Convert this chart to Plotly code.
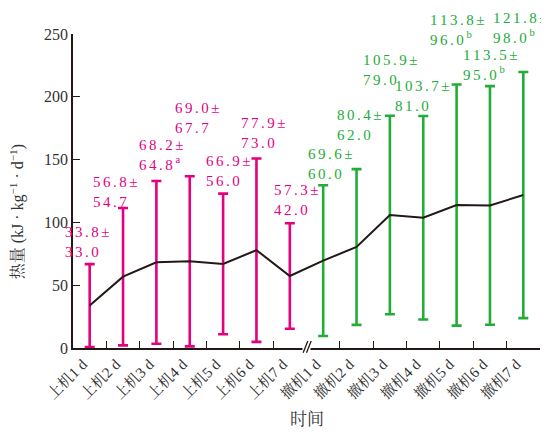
import plotly.graph_objects as go

categories = ["上机1 d", "上机2 d", "上机3 d", "上机4 d", "上机5 d", "上机6 d", "上机7 d",
              "撤机1 d", "撤机2 d", "撤机3 d", "撤机4 d", "撤机5 d", "撤机6 d", "撤机7 d"]
means = [33.8, 56.8, 68.2, 69.0, 66.9, 77.9, 57.3, 69.6, 80.4, 105.9, 103.7, 113.8, 113.5, 121.8]
sds = [33.0, 54.7, 64.8, 67.7, 56.0, 73.0, 42.0, 60.0, 62.0, 79.0, 81.0, 96.0, 95.0, 98.0]
marks = ["", "", "a", "", "", "", "", "", "", "", "", "b", "b", "b"]
y_ticks = [0, 50, 100, 150, 200, 250]
Y_MAX = 250

n_on = 7  # 上机 group size

# label placement (layout): x shift in px from category centre, y middle in data units
label_xshift = [-27, -32, -19, -17, -19, -17, -18, -17, -22, -29, -30, -29, -29, -32]
label_ymid = [84.0, 124.6, 153.3, 183.5, 140.9, 171.5, 118.2, 146.5, 177.5, 221.7, 201.0, 252.8, 225.7, 254.8]

PINK = "#E5007F"
GREEN = "#22AC38"
BLACK = "#231815"
GAP = "\u2006"
SERIF = "Liberation Serif, Noto Serif CJK SC, Noto Sans CJK SC"


def spaced(s):
    return GAP.join(list(s))


fig = go.Figure()

groups = [(0, n_on, PINK), (n_on, len(categories), GREEN)]
for a, b, col in groups:
    fig.add_trace(go.Scatter(
        x=categories[a:b], y=means[a:b], mode="markers",
        marker=dict(size=1, color="rgba(0,0,0,0)"),
        error_y=dict(type="data", array=sds[a:b], visible=True, color=col,
                     thickness=2.6, width=5),
        showlegend=False, hoverinfo="skip"))

fig.add_trace(go.Scatter(x=categories, y=means, mode="lines",
                         line=dict(color=BLACK, width=2), showlegend=False))

annotations = []
for i, (m, s, mk) in enumerate(zip(means, sds, marks)):
    col = PINK if i < n_on else GREEN
    line1 = spaced(f"{m:.1f}") + GAP + "±"
    line2 = spaced(f"{s:.1f}")
    if mk:
        line2 += f"<sup> {mk}</sup>"
    annotations.append(dict(
        x=i, y=label_ymid[i] / Y_MAX, xref="x", yref="paper", xanchor="left", yanchor="middle",
        xshift=label_xshift[i], align="left", showarrow=False,
        text=line1 + "<br>" + line2,
        font=dict(family="Liberation Serif", size=15, color=col)))

# axis titles as annotations
annotations.append(dict(
    x=0, y=0.432, xref="paper", yref="paper", xshift=-56, xanchor="center", yanchor="middle",
    textangle=-90, showarrow=False,
    text="热量 (kJ · kg<sup>−1</sup> · d<sup>−1</sup>)",
    font=dict(size=16, family=SERIF, color="#333333")))
annotations.append(dict(
    x=0.5, y=0, xref="paper", yref="paper", yshift=-71, xanchor="center", yanchor="middle",
    showarrow=False, text="时间",
    font=dict(size=17, family=SERIF, color="#333333")))

# axis break marker between the two groups
shapes = [
    dict(type="rect", xref="x", yref="paper", x0=n_on - 0.62, x1=n_on - 0.38,
         y0=-0.02, y1=0.03, fillcolor="white", line=dict(width=0), layer="above"),
    dict(type="line", xref="x", yref="paper", x0=n_on - 0.6, x1=n_on - 0.46,
         y0=-0.015, y1=0.022, line=dict(color=BLACK, width=1.3), layer="above"),
    dict(type="line", xref="x", yref="paper", x0=n_on - 0.5, x1=n_on - 0.36,
         y0=-0.015, y1=0.022, line=dict(color=BLACK, width=1.3), layer="above"),
]

fig.update_layout(
    width=541, height=424,
    margin=dict(l=65, r=9, t=26, b=84),
    paper_bgcolor="white", plot_bgcolor="white",
    font=dict(family=SERIF, color="#333333"),
    annotations=annotations, shapes=shapes,
    xaxis=dict(
        type="category", categoryorder="array", categoryarray=categories,
        range=[-0.5, len(categories) - 0.5], automargin=False,
        tickson="boundaries", ticks="inside", ticklen=7, tickcolor=BLACK, tickwidth=1.3,
        showline=True, linecolor=BLACK, linewidth=1.5, showgrid=False,
        tickangle=-45, ticklabelshift=-7,
        tickfont=dict(size=15, family=SERIF, color="#333333"),
    ),
    yaxis=dict(
        range=[0, Y_MAX], tickvals=y_ticks, ticks="inside", ticklen=7, automargin=False,
        tickcolor=BLACK, tickwidth=1.3, showline=True, linecolor=BLACK, linewidth=1.5,
        showgrid=False, zeroline=False,
        tickfont=dict(size=16, family="Liberation Serif", color="#333333"),
    ),
)

fig.write_html("out.html")
